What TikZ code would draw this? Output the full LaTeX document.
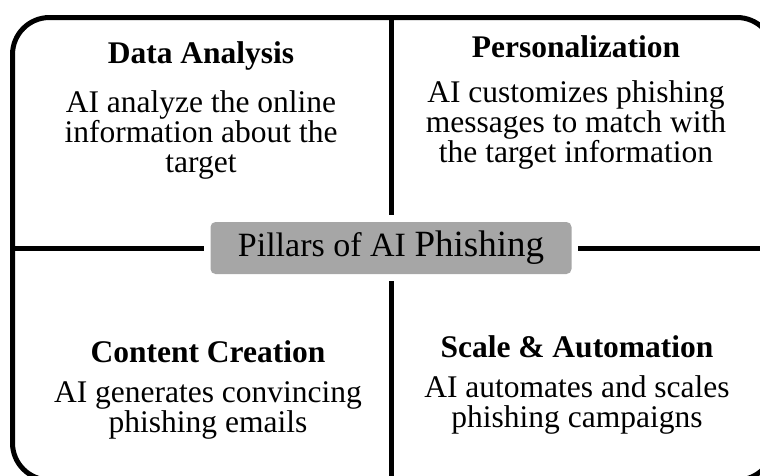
\documentclass[tikz,border=0pt]{standalone}
\usepackage{fontspec}
\setmainfont{Liberation Serif}
\definecolor{pillgray}{HTML}{A6A6A6}
\tikzset{
  frame/.style={line width=5pt, rounded corners=37pt},
  divider/.style={line width=5pt},
  heading/.style={font=\fontsize{31.5}{30}\selectfont\bfseries, anchor=base, inner sep=0pt},
  % multi-line text: the base anchor sits on the last line
  body/.style={font=\fontsize{31.5}{30}\selectfont, align=center, anchor=base, inner sep=0pt},
  pill/.style={fill=pillgray, rounded corners=5pt, minimum width=361pt, minimum height=52pt, inner sep=0pt}
}
\begin{document}
\begin{tikzpicture}[x=1pt, y=-1pt]
  \useasboundingbox (0,0) rectangle (760,475);
  \clip (0,0) rectangle (760,475);

  % outer frame
  \draw[frame] (12.5,17.5) rectangle (774,480);

  % centre label
  \node[pill] (hub) at (391,248)
    {{\fontsize{34}{34}\selectfont Pillars of AI }{\fontsize{37}{37}\selectfont Phishing}};

  % ends of the dividers on the frame
  \coordinate (ntop) at (391,17.5);
  \coordinate (nbot) at (391,480);
  \coordinate (wleft) at (12.5,248);
  \coordinate (eright) at (774,248);

  \draw[divider, shorten >=7pt] (ntop) -- (hub.north);
  \draw[divider, shorten >=7pt] (nbot) -- (hub.south);
  \draw[divider, shorten >=6pt] (wleft) -- (hub.west);
  \draw[divider, shorten >=6pt] (eright) -- (hub.east);

  % quadrant texts
  \node[heading] (h1) at (201,63) {Data Analysis};
  \node[body] (b1) at (201,172) {AI analyze the online\\information about the\\target};

  \node[heading] (h2) at (576,57) {Personalization};
  \node[body] (b2) at (576,162) {AI customizes phishing\\messages to match with\\the target information};

  \node[heading] (h3) at (208,362) {Content Creation};
  \node[body] (b3) at (208,432) {AI generates convincing\\phishing emails};

  \node[heading] (h4) at (577,357) {Scale \& Automation};
  \node[body] (b4) at (577,427) {AI automates and scales\\phishing campaigns};
\end{tikzpicture}
\end{document}
